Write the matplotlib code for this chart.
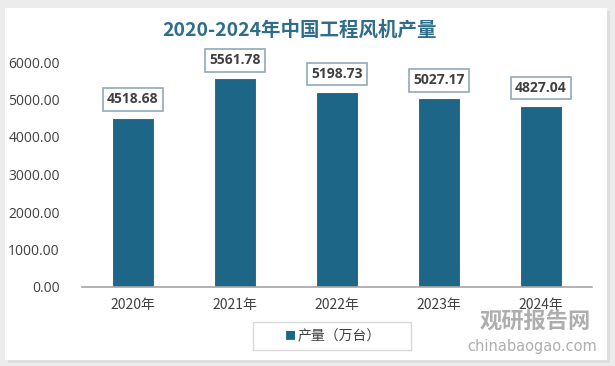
import matplotlib.pyplot as plt
from matplotlib.patches import Rectangle

plt.rcParams['font.family'] = ['Noto Sans CJK SC', 'DejaVu Sans']
plt.rcParams['hatch.color'] = '#dcdcdc'
plt.rcParams['hatch.linewidth'] = 0.5

years = ['2020年', '2021年', '2022年', '2023年', '2024年']
output = [4518.68, 5561.78, 5198.73, 5027.17, 4827.04]
yticks = [0, 1000, 2000, 3000, 4000, 5000, 6000]

bar_color = '#1d6688'
title_color = '#2f6d8c'
text_color = '#404040'

fig = plt.figure(figsize=(6.15, 3.66), dpi=100, facecolor='#ececec')
# card shadow + card
fig.patches.append(Rectangle((8 / 615, 3 / 366), 602 / 615, 352 / 366,
                             transform=fig.transFigure, facecolor='#dedede',
                             edgecolor='none', zorder=-6))
fig.patches.append(Rectangle((5 / 615, 6 / 366), 602 / 615, 352 / 366,
                             transform=fig.transFigure, facecolor='white',
                             edgecolor='none', zorder=-5))

ax = fig.add_axes([82 / 615, 79 / 366, 510 / 615, 225 / 366])
ax.set_facecolor('none')
ax.add_patch(Rectangle((0, 0), 1, 1, transform=ax.transAxes, facecolor='white',
                       edgecolor='none', hatch='//////', zorder=0))

x = range(len(years))
ax.bar(x, output, width=0.42, color=bar_color, edgecolor='white', linewidth=0.8, zorder=2)
for i, v in enumerate(output):
    ax.annotate(f'{v:.2f}', (i, v), xytext=(0, 13), textcoords='offset points',
                ha='center', va='center', fontsize=10, fontweight='bold',
                color=text_color, family=['Open Sans', 'DejaVu Sans'],
                bbox=dict(boxstyle='square,pad=0.3', facecolor='white',
                          edgecolor='#8fa9b8', linewidth=1.2), zorder=3)

ax.set_xlim(-0.5, len(years) - 0.5)
ax.set_ylim(0, 6000)
ax.set_yticks(yticks)
ax.set_yticklabels([f'{t:.2f}' for t in yticks], family=['Open Sans', 'DejaVu Sans'])
ax.set_xticks(list(x))
ax.set_xticklabels(years)
ax.tick_params(axis='y', length=0, labelsize=10, colors=text_color, pad=16)
ax.tick_params(axis='x', length=0, labelsize=10, colors=text_color, pad=8)
for s in ['top', 'right', 'left']:
    ax.spines[s].set_visible(False)
ax.spines['bottom'].set_color('#a6a6a6')
ax.spines['bottom'].set_linewidth(1.2)

fig.text(300 / 615, 1 - 30 / 366, '2020-2024年中国工程风机产量', ha='center', va='center',
         fontsize=14, fontweight='bold', color=title_color)

# legend
fig.patches.append(Rectangle((253 / 615, 1 - 350 / 366), 158 / 615, 28 / 366,
                             transform=fig.transFigure, facecolor='white',
                             edgecolor='#d9d9d9', linewidth=1))
fig.text(290 / 615, 1 - 336 / 366, '■', ha='center', va='center', fontsize=8, color=bar_color)
fig.text(298 / 615, 1 - 336 / 366, '产量（万台）', ha='left', va='center', fontsize=10, color=text_color)

# watermark
fig.text(535 / 615, 1 - 322 / 366, '观研报告网', ha='center', va='center', fontsize=16,
         fontweight='bold', color='#9a9a9a', alpha=0.8)
fig.text(532 / 615, 1 - 346 / 366, 'chinabaogao.com', ha='center', va='center', fontsize=10.5,
         color='#9a9a9a', alpha=0.8, family=['DejaVu Sans'])

fig.savefig('out.png', dpi=100, facecolor=fig.get_facecolor())
